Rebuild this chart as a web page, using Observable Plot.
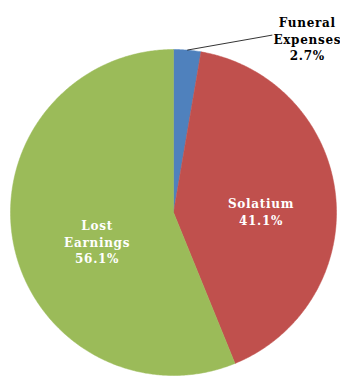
<!DOCTYPE html>
<html><head><meta charset="utf-8">
<script src="https://cdn.jsdelivr.net/npm/d3@7"></script>
<script src="https://cdn.jsdelivr.net/npm/@observablehq/plot@0.6"></script>
<style>body{margin:0;background:#fff}</style>
</head><body><div id="chart"></div>
<script>
// Data
const categories = ["Funeral Expenses", "Solatium", "Lost Earnings"];
const labelLines = ["Funeral\nExpenses", "Solatium", "Lost\nEarnings"];
const shares = [2.7, 41.1, 56.1];
const colors = ["#4F81BD", "#C0504D", "#9BBB59"];

// Layout (pixels)
const W = 340, H = 377, R = 163;
const labelRadius = [1.0, 0.54, 0.54];
const labelDx = [120, 0, 10];
const labelDy = [-11.5, 8, 12];
const labelFill = ["#000", "#fff", "#fff"];

const total = d3.sum(shares);
let acc = 0;
const slices = categories.map((c, i) => {
  const a0 = acc / total * 2 * Math.PI;
  acc += shares[i];
  const a1 = acc / total * 2 * Math.PI;
  return {c, i, a0, a1, mid: (a0 + a1) / 2};
});

const poly = [];
for (const s of slices) {
  const n = Math.max(4, Math.ceil((s.a1 - s.a0) * 180 / Math.PI * 2));
  poly.push({c: s.c, x: 0, y: 0, color: colors[s.i]});
  for (let k = 0; k <= n; k++) {
    const a = s.a0 + (s.a1 - s.a0) * k / n;
    poly.push({c: s.c, x: R * Math.sin(a), y: R * Math.cos(a), color: colors[s.i]});
  }
  poly.push({c: s.c, x: 0, y: 0, color: colors[s.i]});
}

const labelData = slices.map(s => {
  const r = R * labelRadius[s.i];
  return {
    ax: r * Math.sin(s.mid), ay: r * Math.cos(s.mid),
    x: r * Math.sin(s.mid) + labelDx[s.i], y: r * Math.cos(s.mid) - labelDy[s.i],
    text: `${labelLines[s.i]}\n${shares[s.i]}%`, fill: labelFill[s.i], i: s.i
  };
});
const leader = labelData.filter(d => d.i === 0).map(d => ({x1: d.ax, y1: d.ay, x2: d.x - 35, y2: d.y + 3.5}));

const chart = Plot.plot({
  width: W, height: H,
  margin: 0,
  x: {domain: [-173, W - 173], axis: null},
  y: {domain: [-(H - 212), 212], axis: null},
  color: {type: "identity"},
  marks: [
    Plot.line(poly, {x: "x", y: "y", z: "c", fill: "color", stroke: "color", strokeWidth: 0.5, curve: "linear"}),
    Plot.link(leader, {x1: "x1", y1: "y1", x2: "x2", y2: "y2", stroke: "#000", strokeWidth: 0.8}),
    Plot.text(labelData, {x: "x", y: "y", text: "text", fill: "fill", fontFamily: "DejaVu Serif", fontWeight: "bold", fontSize: 12, lineHeight: 1.38, lineAnchor: "middle", textAnchor: "middle"})
  ]
});
d3.select(chart).selectAll("text").style("letter-spacing", "0.7px");
document.getElementById("chart").append(chart);
</script></body></html>
